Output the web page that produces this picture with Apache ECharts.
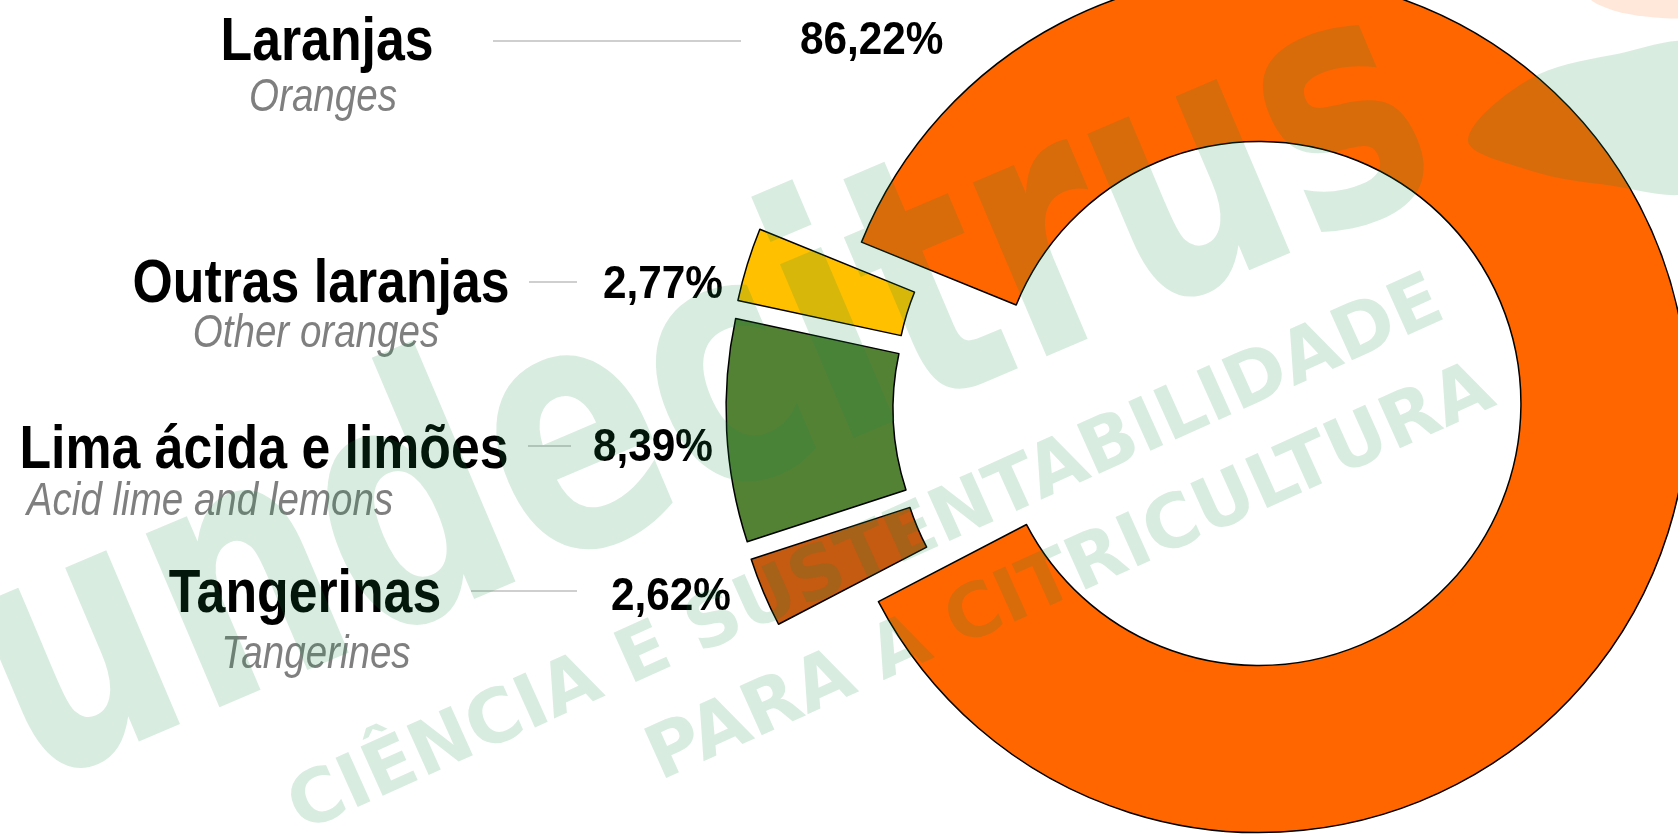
<!DOCTYPE html>
<html>
<head>
<meta charset="utf-8">
<title>Citros</title>
<script src="https://cdn.jsdelivr.net/npm/echarts@6/dist/echarts.min.js"></script>
<style>
  html, body { margin: 0; padding: 0; background: #fff; }
  #chart { width: 1678px; height: 834px; }
</style>
</head>
<body>
<div id="chart"></div>
<script>
const categories = ['Laranjas', 'Outras laranjas', 'Lima ácida e limões', 'Tangerinas']
const categoriesEn = ['Oranges', 'Other oranges', 'Acid lime and lemons', 'Tangerines']
const shares = [86.22, 2.77, 8.39, 2.62]
const colors = ['#ff6600', '#ffc000', '#548235', '#c55a11']

// where each label block sits:
// [name centre x, name baseline, english centre x, english baseline, line x1, line x2, line y, pct left, pct baseline]
const labelSpots = [
  [327, 60, 323, 111, 493, 741, 41, 800, 54],
  [321, 302, 316, 347, 529, 577, 282, 603, 298],
  [264, 468, 210, 515, 528, 571, 446, 593, 461],
  [305, 612, 316, 668, 471, 577, 591, 611, 610]
]

// no narrow font installed, so squeeze Liberation Sans horizontally
const FONT = "'Liberation Sans', Arial, sans-serif"
const NARROW = 0.82
const WM_GREEN = 'rgba(16,139,67,0.165)'

const chart = echarts.init(document.getElementById('chart'))

const fmtPct = v => v.toFixed(2).replace('.', ',') + '%'

// zrender 'middle' lands roughly 0.28em above the baseline
const mid = (baseline, size) => baseline - 0.28 * size

const squeezedText = (text, x, baseline, size, font, fill, align, sx) => ({
  type: 'text',
  z: 10,
  x: x,
  y: mid(baseline, size),
  scaleX: sx,
  style: {
    text: text, x: 0, y: 0,
    align: align, verticalAlign: 'middle',
    font: font.replace('{s}', size + 'px') + FONT, fill: fill
  }
})

const labelElements = []
categories.forEach((name, i) => {
  const s = labelSpots[i]
  labelElements.push(squeezedText(name, s[0], s[1], 62, 'bold {s} ', '#000', 'center', 0.835))
  labelElements.push(squeezedText(categoriesEn[i], s[2], s[3], 47, 'italic {s} ', '#7f7f7f', 'center', NARROW))
  labelElements.push({
    type: 'line',
    z: 10,
    shape: { x1: s[4], y1: s[6], x2: s[5], y2: s[6] },
    style: { stroke: '#bfbfbf', lineWidth: 1.5 }
  })
  labelElements.push(squeezedText(fmtPct(shares[i]), s[7], s[8], 47, 'bold {s} ', '#000', 'left', 0.9))
})

// faint logo watermark laid over everything
const watermark = [
  {
    type: 'text',
    z: 100,
    x: 655, y: 425,
    rotation: 23 * Math.PI / 180,
    scaleX: 0.74,
    style: {
      text: 'fundecitrus', x: 0, y: 0,
      align: 'center', verticalAlign: 'middle',
      font: "bold 345px 'DejaVu Sans', sans-serif", fill: WM_GREEN
    }
  },
  {
    type: 'text',
    z: 100,
    x: 867, y: 557,
    rotation: 24.2 * Math.PI / 180,
    style: {
      text: 'CIÊNCIA E SUSTENTABILIDADE', x: 0, y: 0,
      align: 'center', verticalAlign: 'middle',
      font: "bold 74px 'DejaVu Sans', sans-serif", fill: WM_GREEN
    }
  },
  {
    type: 'text',
    z: 100,
    x: 1071, y: 575,
    rotation: 24.2 * Math.PI / 180,
    style: {
      text: 'PARA A CITRICULTURA', x: 0, y: 0,
      align: 'center', verticalAlign: 'middle',
      font: "bold 74px 'DejaVu Sans', sans-serif", fill: WM_GREEN
    }
  },
  {
    type: 'polygon',
    z: 100,
    shape: {
      points: [[1468, 140], [1528, 80], [1612, 55], [1700, 48], [1700, 186], [1600, 184], [1522, 168]],
      smooth: 0.35
    },
    style: { fill: WM_GREEN }
  },
  {
    type: 'circle',
    z: 100,
    x: 1680, y: -10,
    scaleY: 0.3,
    shape: { cx: 0, cy: 0, r: 95 },
    style: { fill: 'rgba(255,102,0,0.15)' }
  }
]

const option = {
  animation: false,
  backgroundColor: '#fff',
  graphic: { elements: labelElements.concat(watermark) },
  series: [
    {
      type: 'pie',
      center: [1207, 406],
      radius: [262, 429],
      startAngle: 207.5,
      clockwise: false,
      avoidLabelOverlap: false,
      selectedMode: 'multiple',
      selectedOffset: 52,
      label: { show: false },
      labelLine: { show: false },
      emphasis: { disabled: true },
      itemStyle: { borderColor: '#000', borderWidth: 1.5 },
      select: { itemStyle: { borderColor: '#000', borderWidth: 1.5 } },
      data: categories.map((name, i) => ({
        name,
        value: shares[i],
        selected: true,
        itemStyle: { color: colors[i] }
      }))
    }
  ]
}

chart.setOption(option)
</script>
</body>
</html>
